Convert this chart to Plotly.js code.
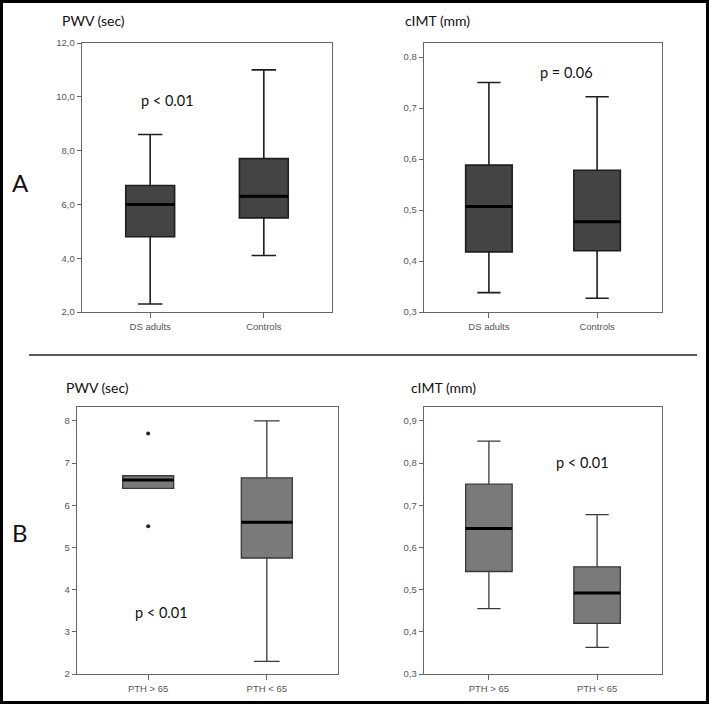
<!DOCTYPE html>
<html>
<head>
<meta charset="utf-8">
<script src="https://cdn.plot.ly/plotly-3.0.1.min.js"></script>
<style>html,body{margin:0;padding:0;background:#fff;}#chart{width:709px;height:704px;}</style>
</head>
<body>
<div id="chart"></div>
<script>
// ---- Data ----
const catsA = ["DS adults", "Controls"];
const catsB = ["PTH > 65", "PTH < 65"];

// Panel A - PWV (sec)
const pwvA_low = [2.3, 4.1];
const pwvA_q1 = [4.8, 5.5];
const pwvA_med = [6.0, 6.3];
const pwvA_q3 = [6.7, 7.7];
const pwvA_high = [8.6, 11.0];

// Panel A - cIMT (mm)
const imtA_low = [0.338, 0.327];
const imtA_q1 = [0.418, 0.420];
const imtA_med = [0.507, 0.477];
const imtA_q3 = [0.588, 0.578];
const imtA_high = [0.750, 0.722];

// Panel B - PWV (sec)
const pwvB_low = [6.4, 2.3];
const pwvB_q1 = [6.4, 4.75];
const pwvB_med = [6.6, 5.6];
const pwvB_q3 = [6.7, 6.65];
const pwvB_high = [6.7, 8.0];
const pwvB_outlierGroup = [0, 0];
const pwvB_outliers = [7.7, 5.5];

// Panel B - cIMT (mm)
const imtB_low = [0.455, 0.363];
const imtB_q1 = [0.543, 0.420];
const imtB_med = [0.645, 0.492];
const imtB_q3 = [0.750, 0.554];
const imtB_high = [0.852, 0.678];

// ---- Build ----
const BW = 0.43;
const pos = [0, 1];
function boxTrace(ax, low, q1, med, q3, high, fill, lc, lw) {
  return {
    type: "box", x: pos, lowerfence: low, q1: q1, median: med, q3: q3, upperfence: high,
    xaxis: "x" + ax, yaxis: "y" + ax, width: BW, whiskerwidth: 0.5,
    fillcolor: fill, line: {color: lc, width: lw}, boxpoints: false,
    showlegend: false, hoverinfo: "skip"
  };
}
function medTrace(ax, med) {
  const xs = [], ys = [];
  med.forEach((m, i) => { xs.push(pos[i] - BW / 2, pos[i] + BW / 2, null); ys.push(m, m, null); });
  return {type: "scatter", mode: "lines", x: xs, y: ys, xaxis: "x" + ax, yaxis: "y" + ax,
    line: {color: "#000", width: 3}, showlegend: false, hoverinfo: "skip"};
}

const fillA = "#444444", fillB = "#7a7a7a";
const traces = [
  boxTrace("", pwvA_low, pwvA_q1, pwvA_med, pwvA_q3, pwvA_high, fillA, "#1e1e1e", 1.6),
  medTrace("", pwvA_med),
  boxTrace("2", imtA_low, imtA_q1, imtA_med, imtA_q3, imtA_high, fillA, "#1e1e1e", 1.6),
  medTrace("2", imtA_med),
  boxTrace("3", pwvB_low, pwvB_q1, pwvB_med, pwvB_q3, pwvB_high, fillB, "#3a3a3a", 1.3),
  medTrace("3", pwvB_med),
  {type: "scatter", mode: "markers", x: pwvB_outlierGroup, y: pwvB_outliers, xaxis: "x3", yaxis: "y3",
   marker: {color: "#222", size: 4}, showlegend: false, hoverinfo: "skip"},
  boxTrace("4", imtB_low, imtB_q1, imtB_med, imtB_q3, imtB_high, fillB, "#3a3a3a", 1.3),
  medTrace("4", imtB_med)
];

const W = 709, H = 704;
const px = v => v / W, py = v => 1 - v / H;
const tickFont = {family: "Liberation Sans, Arial, sans-serif", size: 9.5, color: "#555"};
function xax(d, cats, anc) {
  return {domain: d, anchor: anc, range: [-0.6, 1.6], tickmode: "array", tickvals: pos, ticktext: cats,
    showline: true, mirror: true, linecolor: "#666", linewidth: 1.3, ticks: "outside",
    ticklen: 5, tickcolor: "#666", showgrid: false, zeroline: false, tickfont: tickFont, fixedrange: true};
}
function yax(d, r, dt, fmt, anc) {
  return {domain: d, anchor: anc, range: r, dtick: dt, tick0: 0, tickformat: fmt,
    showline: true, mirror: true, linecolor: "#666", linewidth: 1.3, ticks: "outside",
    ticklen: 4, tickcolor: "#666", showgrid: false, zeroline: false, tickfont: tickFont, fixedrange: true};
}
const topY = [py(312), py(43)], botY = [py(674), py(407)];
const titleFont = {family: "Lato, Open Sans, sans-serif", size: 14, color: "#111"};
const pFont = {family: "Lato, Open Sans, sans-serif", size: 14.5, color: "#111"};
const letterFont = {family: "Lato, Open Sans, sans-serif", size: 24, color: "#111"};
function ann(text, x, y, font) {
  return {text: text, xref: "paper", yref: "paper", x: px(x), y: py(y), xanchor: "center", yanchor: "middle",
    showarrow: false, font: font};
}

const layout = {
  width: W, height: H, margin: {l: 0, r: 0, t: 0, b: 0},
  paper_bgcolor: "#fff", plot_bgcolor: "#fff", separators: ", ",
  xaxis: xax([px(82), px(332)], catsA, "y"), yaxis: yax(topY, [2, 12], 2, ".1f", "x"),
  xaxis2: xax([px(424), px(662)], catsA, "y2"), yaxis2: yax(topY, [0.3, 0.8275], 0.1, ".1f", "x2"),
  xaxis3: xax([px(77), px(338)], catsB, "y3"), yaxis3: yax(botY, [2, 8.33], 1, "d", "x3"),
  xaxis4: xax([px(424), px(662)], catsB, "y4"), yaxis4: yax(botY, [0.3, 0.933], 0.1, ".1f", "x4"),
  annotations: [
    ann("PWV (sec)", 93, 20, titleFont),
    ann("cIMT (mm)", 437, 20, titleFont),
    ann("p &lt; 0.01", 167, 101, pFont),
    ann("p = 0.06", 566, 72, pFont),
    ann("A", 20, 182, letterFont),
    ann("PWV (sec)", 97, 387, titleFont),
    ann("cIMT (mm)", 443, 387, titleFont),
    ann("p &lt; 0.01", 161, 612, pFont),
    ann("p &lt; 0.01", 582, 462, pFont),
    ann("B", 20, 532, letterFont)
  ],
  shapes: [
    {type: "rect", xref: "paper", yref: "paper", x0: px(1.5), x1: px(707.5), y0: py(702.5), y1: py(1.5),
     line: {color: "#000", width: 3}},
    {type: "line", xref: "paper", yref: "paper", x0: px(29), x1: px(697), y0: py(355), y1: py(355),
     line: {color: "#222", width: 1.5}}
  ]
};

Plotly.newPlot("chart", traces, layout, {displayModeBar: false, staticPlot: true});
</script>
</body>
</html>
